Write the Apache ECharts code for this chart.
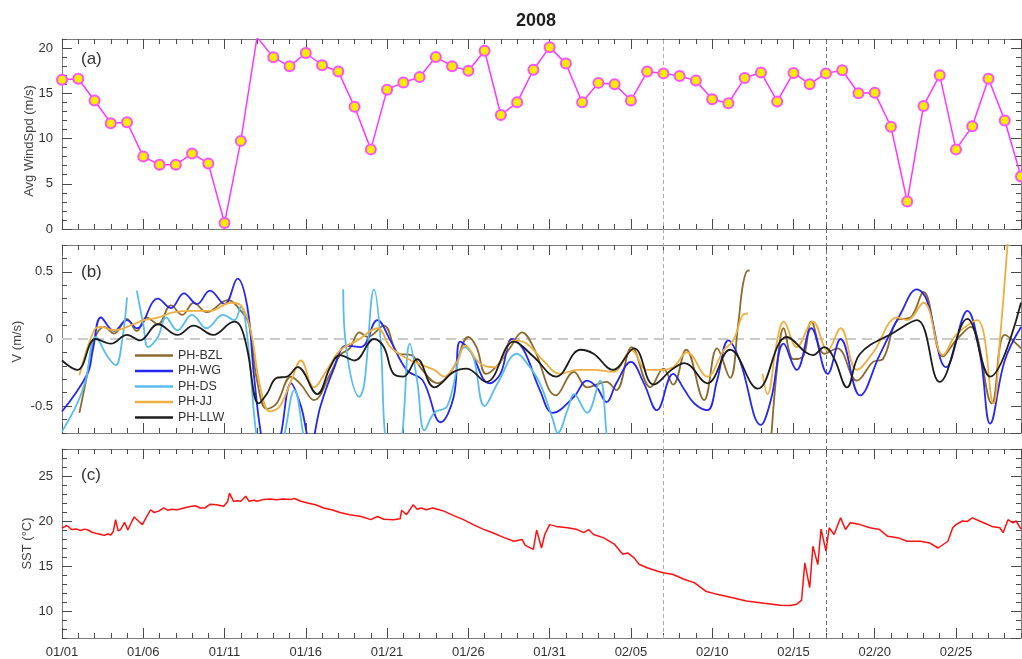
<!DOCTYPE html>
<html>
<head>
<meta charset="utf-8">
<title>2008</title>
<script src="https://cdn.jsdelivr.net/npm/echarts@6/dist/echarts.min.js"></script>
<style>
  html, body { margin: 0; padding: 0; background: #fff; }
  #chart { width: 1022px; height: 659px; }
</style>
</head>
<body>
<div id="chart"></div>
<script>
// ---- data ---------------------------------------------------------------
// x positions are days since 2008-01-01 00:00 (02/29 00:00 = day 59)

// (a) daily mean wind speed, m/s, one value per day starting 01/01
const windSpd = [
  16.5, 16.6, 14.2, 11.7, 11.8, 8.0, 7.1, 7.1, 8.35, 7.25,
  0.66, 9.74, 21.2, 18.97, 17.98, 19.45, 18.1, 17.4, 13.5, 8.8,
  15.4, 16.2, 16.8, 19.0, 18.0, 17.5, 19.7, 12.6, 14.0, 17.6,
  20.1, 18.3, 14.0, 16.15, 16.0, 14.2, 17.4, 17.2, 16.9, 16.4,
  14.35, 13.9, 16.7, 17.3, 14.1, 17.25, 16.0, 17.2, 17.55, 15.0,
  15.05, 11.3, 3.03, 13.6, 17.0, 8.8, 11.35, 16.6, 12.0, 5.8
];

// (b) along-shore velocity V, m/s, [day, value]; null marks a gap in the record
const vBZL = [
  [1.07,-0.55],[1.56,-0.26],[1.97,-0.01],[2.6,0.09],[3.2,0.04],[4.0,0.15],[4.6,0.06],[5.2,0.16],
  [5.9,0.11],[6.7,0.25],[7.4,0.18],[8.1,0.27],[8.9,0.20],[10.2,0.29],[11.0,0.21],[11.5,0.11],
  [12.0,-0.31],[12.6,-0.52],[13.2,-0.48],[14.1,-0.28],[14.7,-0.34],[15.5,-0.455],[16.5,-0.26],
  [17.1,-0.12],[17.7,-0.07],[18.3,0.05],[18.8,0.015],[19.8,0.10],[20.7,-0.11],[21.5,-0.12],
  [22.1,-0.22],[23.1,-0.33],[24.1,-0.21],[25.0,0.015],[25.5,-0.06],[26.1,-0.26],[26.8,-0.195],
  [27.6,-0.06],[28.3,0.05],[29.0,-0.06],[30.4,-0.42],[31.5,-0.245],[32.3,-0.36],[33.1,-0.33],
  [33.5,-0.32],[34.1,-0.38],[35.05,-0.06],[36.2,-0.36],[37.0,-0.22],[37.6,-0.34],[38.4,-0.08],
  [39.5,-0.455],[40.3,-0.07],[41.1,-0.29],[41.6,0.11],[41.9,0.41],[42.2,0.51],[42.3,0.51],
  null,
  [43.6,-0.8],[44.0,-0.21],[44.4,0.08],[45.0,-0.15],[45.6,-0.13],[46.1,0.13],[46.9,-0.11],
  [47.7,-0.07],[48.9,-0.31],[49.9,-0.17],[50.5,-0.15],[51.4,0.14],[52.2,0.16],[53.0,0.35],
  [54.2,-0.13],[55.0,-0.01],[55.9,0.09],[57.2,-0.48],[58.0,0.03],[59.0,-0.07]
];
const vWG = [
  [0,-0.54],[1.56,-0.26],[1.9,-0.08],[2.4,0.16],[3.2,0.06],[4.0,0.14],[4.6,0.08],[5.9,0.30],
  [6.7,0.23],[7.5,0.34],[8.3,0.26],[9.1,0.36],[10.0,0.26],[10.8,0.45],[11.4,0.24],[11.8,-0.26],
  [12.3,-0.75],[12.8,-0.95],[13.4,-0.75],[14.1,-0.33],[14.7,-0.5],[15.3,-0.78],[15.9,-0.5],
  [16.7,-0.23],[17.5,-0.05],[18.4,-0.06],[19.4,0.14],[20.2,-0.01],[21.2,-0.23],[22.2,-0.31],
  [23.3,-0.62],[24.1,-0.43],[24.5,-0.02],[25.1,-0.085],[26.3,-0.33],[26.97,-0.26],[27.7,0.0],
  [28.4,-0.08],[29.4,-0.38],[30.2,-0.55],[31.5,-0.43],[32.3,-0.31],[32.9,-0.36],[33.5,-0.47],
  [34.1,-0.33],[35.0,-0.17],[35.8,-0.33],[36.6,-0.53],[37.6,-0.26],[38.3,-0.38],[38.9,-0.48],
  [39.7,-0.53],[40.3,-0.31],[41.0,-0.01],[41.7,-0.16],[43.0,-0.64],[43.6,-0.46],[44.4,-0.035],
  [45.2,-0.23],[46.1,0.08],[47.1,-0.26],[47.9,0.0],[49.1,-0.42],[50.3,-0.12],[51.6,0.19],
  [52.6,0.37],[53.2,0.29],[54.4,-0.21],[55.7,0.21],[56.5,-0.13],[57.1,-0.63],[58.0,-0.16],[59.0,0.09]
];
const vDS = [
  [0,-0.69],[0.94,-0.48],[1.45,-0.31],[2.07,0.015],[2.8,-0.13],[3.3,-0.195],[3.7,-0.01],[4.0,0.31],
  null,
  [4.6,0.36],[5.0,0.11],[5.3,-0.06],[5.9,0.015],[6.4,0.16],[7.1,0.065],[8.0,0.18],[8.9,0.08],
  [9.9,0.18],[10.6,0.14],[11.0,0.24],[11.4,0.015],[12.0,-0.75],[12.6,-1.0],[13.5,-0.8],
  [14.3,-0.38],[14.9,-0.75],[15.2,-0.9],
  null,
  [17.3,0.37],[17.5,-0.08],[18.3,-0.43],[18.6,-0.33],[19.2,0.37],[19.6,-0.01],[19.9,-0.75],
  [20.4,-1.0],[20.9,-0.75],[21.4,-0.035],[21.85,-0.31],[22.3,-0.68],[22.9,-0.55],[23.7,-0.5],
  [24.8,-0.06],[25.3,-0.13],[26.0,-0.5],[26.8,-0.33],[28.0,-0.11],[28.6,-0.18],[29.4,-0.33],
  [30.2,-0.6],[30.5,-0.7],[31.1,-0.53],[31.5,-0.41],[32.3,-0.55],[33.1,-0.31],[33.5,-0.7],[33.6,-0.8]
];
const vJJ = [
  [1.07,-0.27],[1.97,0.065],[2.4,0.09],[3.2,0.065],[4.4,0.11],[5.0,0.14],[5.9,0.16],[6.9,0.20],
  [8.1,0.21],[9.1,0.21],[10.4,0.27],[11.0,0.25],[11.6,0.065],[12.2,-0.36],[12.8,-0.54],[13.4,-0.50],
  [14.1,-0.31],[14.7,-0.16],[15.5,-0.36],[16.3,-0.23],[17.1,-0.085],[18.2,-0.01],[19.4,0.08],
  [20.2,-0.06],[21.0,-0.13],[21.85,-0.18],[22.9,-0.23],[23.5,-0.28],[24.3,-0.17],[24.8,-0.05],
  [25.7,-0.18],[26.6,-0.21],[27.8,-0.01],[28.6,-0.035],[29.6,-0.16],[30.65,-0.26],[31.7,-0.23],
  [32.7,-0.23],[33.9,-0.245],[35.05,-0.085],[35.98,-0.23],[36.8,-0.23],[37.6,-0.21],[38.45,-0.1],
  [39.7,-0.28],[40.7,-0.085],[41.3,-0.01],[41.9,0.18],[42.2,0.19],
  null,
  [43.1,-0.26],[43.4,-0.41],[44.0,-0.01],[44.4,0.13],[45.2,-0.06],[46.2,0.13],[47.1,-0.085],
  [47.9,0.08],[48.9,-0.23],[49.9,-0.1],[51.4,0.16],[52.0,0.14],[53.0,0.27],[54.2,-0.12],
  [55.0,0.03],[56.3,0.14],[57.3,-0.48],[57.7,-0.01],[58.2,0.75]
];
const vLLW = [
  [0,-0.16],[0.94,-0.23],[2.07,0.0],[3.0,-0.035],[4.0,0.03],[4.8,-0.01],[5.9,0.11],[7.1,0.03],
  [8.1,0.10],[9.3,0.03],[10.6,0.13],[11.0,0.09],[11.4,-0.08],[12.1,-0.48],[12.6,-0.41],[13.2,-0.29],
  [13.85,-0.28],[14.5,-0.21],[15.7,-0.41],[16.5,-0.21],[17.1,-0.12],[18.0,-0.16],[19.2,0.0],
  [19.8,-0.06],[20.4,-0.26],[21.0,-0.28],[21.85,-0.15],[22.9,-0.36],[24.1,-0.245],[24.9,-0.22],
  [26.1,-0.32],[27.8,-0.02],[29.0,-0.13],[30.4,-0.28],[31.9,-0.08],[32.7,-0.11],[33.9,-0.23],
  [35.2,-0.07],[36.4,-0.34],[37.5,-0.23],[38.3,-0.18],[39.7,-0.33],[41.1,-0.08],[42.8,-0.37],
  [44.6,0.015],[46.2,-0.12],[46.9,-0.06],[47.5,-0.145],[48.3,-0.36],[49.1,-0.11],[51.2,0.05],
  [52.6,0.14],[54.0,-0.32],[55.7,0.15],[57.1,-0.28],[59.0,0.27]
];

// (c) sea surface temperature, deg C, [day, value]
const sst = [
  [0,19.2],[0.3,19.5],[0.6,19.05],[0.9,19.1],[1.15,18.95],[1.4,19.1],[1.6,19.0],[1.85,18.75],
  [2.15,18.6],[2.4,18.5],[2.6,18.4],[2.8,18.55],[3.0,18.45],[3.15,18.8],[3.3,20.15],[3.45,18.9],
  [3.6,19.05],[3.85,19.85],[4.05,19.0],[4.3,19.95],[4.45,20.45],[4.7,20.0],[4.95,19.6],[5.15,20.3],
  [5.45,21.25],[5.65,20.95],[5.95,21.1],[6.25,21.45],[6.5,21.2],[6.75,21.3],[7.1,21.25],[7.5,21.45],
  [7.9,21.6],[8.2,21.7],[8.5,21.45],[8.8,21.45],[9.1,21.85],[9.5,21.8],[9.95,21.65],[10.2,22.2],
  [10.3,23.1],[10.55,22.2],[10.8,22.25],[11.0,22.2],[11.3,22.75],[11.5,22.2],[11.8,22.3],[12.0,22.2],
  [12.4,22.4],[12.8,22.45],[13.2,22.35],[13.6,22.45],[14.1,22.4],[14.3,22.5],[14.7,22.2],[15.1,22.0],
  [15.6,21.8],[16.1,21.45],[16.7,21.2],[17.1,20.95],[17.7,20.7],[18.4,20.5],[19.0,20.15],[19.4,20.5],
  [19.8,20.2],[20.4,20.15],[20.8,20.25],[20.9,21.2],[21.2,20.7],[21.4,21.25],[21.6,21.8],[21.85,21.3],
  [22.1,21.45],[22.4,21.25],[22.8,21.45],[23.2,21.25],[23.5,21.1],[24.1,20.6],[24.7,20.15],[25.3,19.6],
  [25.9,19.1],[26.5,18.7],[27.2,18.15],[27.8,17.75],[28.3,17.95],[28.5,17.3],[29.0,16.85],[29.2,19.0],
  [29.5,17.0],[29.7,18.5],[30.0,19.6],[30.4,19.4],[31.1,19.25],[31.7,19.05],[32.1,18.7],[32.4,19.05],
  [32.7,18.5],[33.3,18.15],[34.0,17.4],[34.5,16.3],[34.8,16.45],[35.2,15.9],[35.5,15.2],[36.0,14.8],
  [36.6,14.45],[37.0,14.25],[37.6,14.05],[38.3,13.5],[38.9,13.15],[39.6,12.2],[40.3,11.85],[41.2,11.5],
  [42.1,11.1],[43.2,10.85],[44.2,10.65],[44.8,10.6],[45.2,10.75],[45.5,11.2],[45.7,15.35],[46.0,12.6],
  [46.2,17.2],[46.5,15.15],[46.7,19.1],[47.0,16.65],[47.2,19.25],[47.5,18.5],[47.9,20.35],[48.2,19.05],
  [48.5,19.8],[49.1,19.6],[49.7,19.25],[50.3,19.05],[50.8,18.3],[51.4,18.15],[52.0,17.75],[52.8,17.75],
  [53.4,17.55],[53.9,17.0],[54.5,17.75],[54.8,19.25],[55.0,19.6],[55.4,20.0],[55.7,19.95],[56.0,20.35],
  [56.7,19.8],[57.2,19.4],[57.7,19.25],[57.9,18.7],[58.2,20.15],[58.5,19.8],[58.7,20.0],[59.0,19.1]
];

const dateLabels = ['01/01','01/06','01/11','01/16','01/21','01/26','01/31','02/05','02/10','02/15','02/20','02/25'];
const eventDays = [37, 47];

const stations = [
  { name: 'PH-BZL', data: vBZL, color: '#8c6a2c' },
  { name: 'PH-WG',  data: vWG,  color: '#2626f2' },
  { name: 'PH-DS',  data: vDS,  color: '#58bdec' },
  { name: 'PH-JJ',  data: vJJ,  color: '#eeaf40' },
  { name: 'PH-LLW', data: vLLW, color: '#1c1c1c' }
];

// ---- layout / styling ---------------------------------------------------
const FONT = '"Liberation Sans", Arial, Helvetica, sans-serif';
const FRAME = '#7c7c7c';
const TICK = '#4a4a4a';
const LABEL = '#333';
const DAY_MIN = 0, DAY_MAX = 59;

const grids = [
  { left: 62, right: 1, top: 39, height: 190 },
  { left: 62, right: 1, top: 245, height: 188 },
  { left: 62, right: 1, top: 449, height: 190 },
  { left: 62, right: 1, top: 39, height: 600 }   // overlay spanning all panels
];

function xAxesFor(g, withLabels) {
  const base = { gridIndex: g, type: 'value', min: DAY_MIN, max: DAY_MAX, splitLine: { show: false } };
  const axes = [];
  ['bottom', 'top'].forEach(pos => {
    axes.push(Object.assign({}, base, {
      position: pos, interval: 1,
      axisLine: { show: true, onZero: false, lineStyle: { color: FRAME, width: 1 } },
      axisTick: { show: true, inside: true, length: 5, lineStyle: { color: TICK } },
      axisLabel: { show: false }
    }));
    axes.push(Object.assign({}, base, {
      position: pos, interval: 5,
      axisLine: { show: false, onZero: false },
      axisTick: { show: true, inside: true, length: 10, lineStyle: { color: TICK } },
      axisLabel: (withLabels && pos === 'bottom') ? {
        show: true, margin: 8, fontSize: 13, color: LABEL, fontFamily: FONT,
        showMinLabel: true, showMaxLabel: false,
        formatter: v => (v % 5 === 0 && dateLabels[v / 5] !== undefined) ? dateLabels[v / 5] : ''
      } : { show: false }
    }));
  });
  return axes;
}

function yAxesFor(g, cfg) {
  const base = { gridIndex: g, type: 'value', min: cfg.min, max: cfg.max, splitLine: { show: false } };
  const axes = [];
  ['left', 'right'].forEach(pos => {
    axes.push(Object.assign({}, base, {
      position: pos, interval: cfg.minor,
      axisLine: { show: true, onZero: false, lineStyle: { color: FRAME, width: 1 } },
      axisTick: { show: true, inside: true, length: 5, lineStyle: { color: TICK } },
      axisLabel: { show: false }
    }));
    const major = Object.assign({}, base, {
      position: pos,
      axisLine: { show: false, onZero: false },
      axisTick: { show: true, inside: true, length: 10, lineStyle: { color: TICK } },
      axisLabel: pos === 'left' ? {
        show: true, margin: 9, fontSize: 13, color: LABEL, fontFamily: FONT,
        showMinLabel: cfg.showMin, showMaxLabel: false
      } : { show: false }
    });
    if (cfg.major !== undefined) major.interval = cfg.major; else major.splitNumber = cfg.split;
    if (pos === 'left') {
      Object.assign(major, {
        name: cfg.name, nameLocation: 'middle', nameGap: cfg.nameGap, nameMoveOverlap: false,
        nameTextStyle: { fontSize: 13, color: '#444', fontFamily: FONT, padding: cfg.namePad || 0 }
      });
    }
    axes.push(major);
  });
  return axes;
}

const xAxis = [].concat(
  xAxesFor(0, false), xAxesFor(1, false), xAxesFor(2, true),
  [{ gridIndex: 3, type: 'value', min: DAY_MIN, max: DAY_MAX, show: false }]
);
const yAxis = [].concat(
  yAxesFor(0, { min: 0, max: 21, minor: 1, major: 5, showMin: true, name: 'Avg WindSpd (m/s)', nameGap: 26, namePad: [0, 14, 0, 0] }),
  yAxesFor(1, { min: -0.7, max: 0.7, minor: 0.1, split: 3, showMin: false, name: 'V (m/s)', nameGap: 38, namePad: [0, 5, 0, 0] }),
  yAxesFor(2, { min: 7, max: 28, minor: 1, split: 5, showMin: false, name: 'SST (\u00B0C)', nameGap: 28 }),
  [{ gridIndex: 3, type: 'value', min: 0, max: 1, show: false }]
);

const toPairs = arr => arr.map(p => (p === null ? ['-', '-'] : p));

const series = [];

// event markers (02/07, 02/17) through all three panels
series.push({
  type: 'line', xAxisIndex: 12, yAxisIndex: 12, data: [], silent: true, z: 1,
  markLine: {
    silent: true, symbol: 'none', z: 1, animation: false,
    label: { show: false },
    lineStyle: { type: [4, 3], width: 1 },
    data: [
      { xAxis: eventDays[0], lineStyle: { color: '#ababab', type: [4, 3], width: 1 } },
      { xAxis: eventDays[1], lineStyle: { color: '#707070', type: [4, 3], width: 1 } }
    ]
  }
});

// (a) wind speed
series.push({
  type: 'line', name: 'WindSpd', xAxisIndex: 0, yAxisIndex: 0, z: 3,
  data: windSpd.map((v, i) => [i, v]),
  symbol: 'circle', symbolSize: 10, showAllSymbol: true, clip: true,
  lineStyle: { color: '#ff36ff', width: 1.5 },
  itemStyle: { color: '#ffec00', borderColor: '#ff50ff', borderWidth: 2 },
  animation: false
});

// (b) velocity at the five stations, with the zero reference line
stations.forEach((s, k) => {
  const item = {
    type: 'line', name: s.name, xAxisIndex: 4, yAxisIndex: 4, z: 3,
    data: toPairs(s.data), smooth: 0.4, showSymbol: false, connectNulls: false, clip: true,
    lineStyle: { color: s.color, width: 1.8 }, itemStyle: { color: s.color },
    animation: false
  };
  if (k === 0) {
    item.markLine = {
      silent: true, symbol: 'none', z: 1, animation: false, label: { show: false },
      lineStyle: { color: '#cacaca', type: [10, 6], width: 2 },
      data: [{ yAxis: 0 }]
    };
  }
  series.push(item);
});

// (c) SST
series.push({
  type: 'line', name: 'SST', xAxisIndex: 8, yAxisIndex: 8, z: 3,
  data: sst, showSymbol: false, clip: true,
  lineStyle: { color: '#ff1010', width: 1.5 },
  animation: false
});

const panelTag = (text, top) => ({
  text, left: 81, top, padding: 0,
  textStyle: { fontSize: 17, fontWeight: 'normal', color: '#333', fontFamily: FONT }
});

const option = {
  backgroundColor: '#fff',
  animation: false,
  textStyle: { fontFamily: FONT },
  title: [
    { text: '2008', left: 536, top: 12, textAlign: 'center', padding: 0,
      textStyle: { fontSize: 18, fontWeight: 'bold', color: '#1e1e1e', fontFamily: FONT } },
    panelTag('(a)', 51),
    panelTag('(b)', 264),
    panelTag('(c)', 467)
  ],
  legend: {
    data: stations.map(s => s.name),
    orient: 'vertical', left: 135, top: 349, padding: 0,
    icon: 'rect', itemWidth: 38, itemHeight: 2.5, itemGap: 2.5,
    textStyle: { fontSize: 12.5, color: '#333', fontFamily: FONT },
    selectedMode: false
  },
  grid: grids,
  xAxis: xAxis,
  yAxis: yAxis,
  series: series
};

const chart = echarts.init(document.getElementById('chart'), null, { renderer: 'canvas' });
chart.setOption(option);
</script>
</body>
</html>
